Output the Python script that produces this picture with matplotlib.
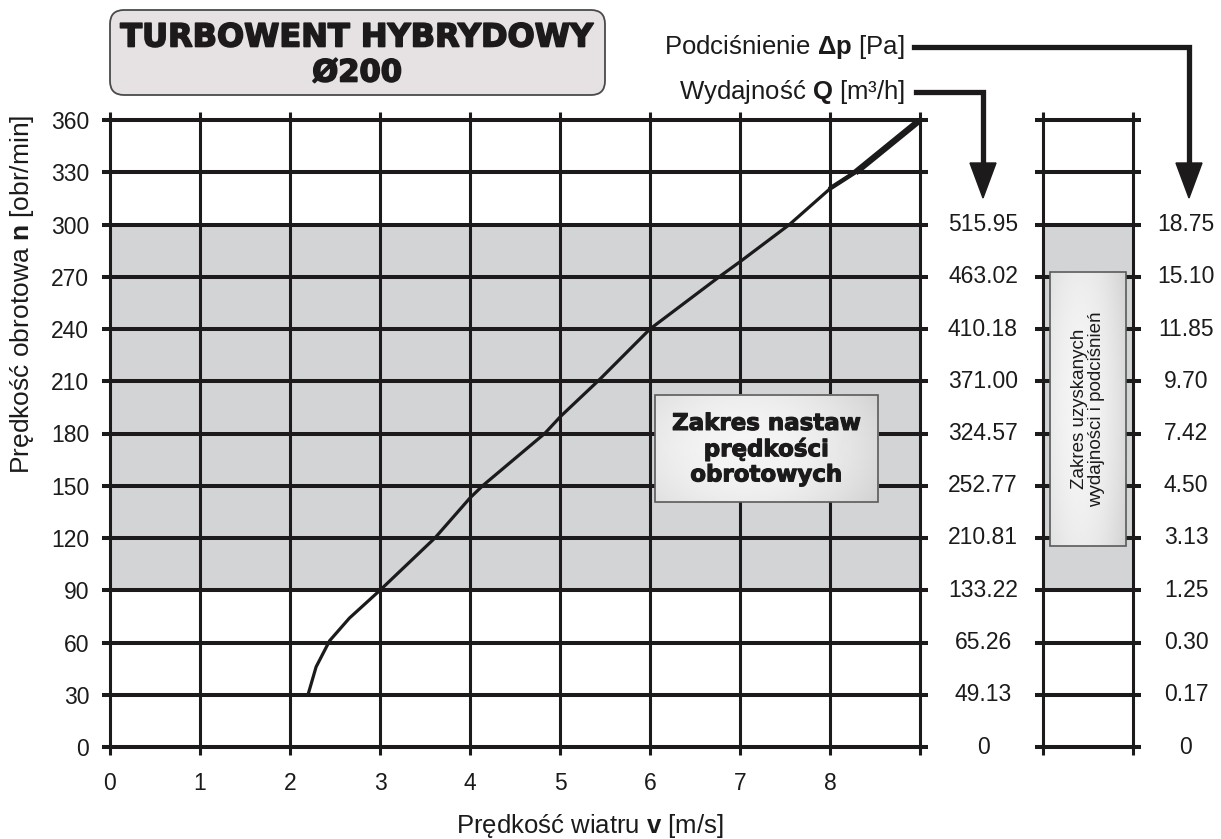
import numpy as np
import matplotlib.pyplot as plt
from matplotlib.patches import FancyBboxPatch, Rectangle, Polygon
import matplotlib.patheffects as pe

plt.rcParams['font.family'] = ['Liberation Sans', 'DejaVu Sans']
plt.rcParams['mathtext.fontset'] = 'custom'
plt.rcParams['mathtext.rm'] = 'Liberation Sans'
plt.rcParams['mathtext.bf'] = 'Liberation Sans:bold'

# characteristic: wind speed [m/s] -> rotor speed [obr/min]
wind = [2.20, 2.29, 2.44, 2.66, 3.00, 3.61, 4.00, 4.14, 4.83, 5.01, 5.44, 6.00,
        6.77, 7.01, 7.55, 8.01, 8.31, 9.00]
rpm = [30, 46, 61, 74, 90, 120, 143, 150, 180, 190, 211, 240,
       270, 279, 300, 321, 331, 360]

rpm_ticks = [0, 30, 60, 90, 120, 150, 180, 210, 240, 270, 300, 330, 360]
wind_ticks = [0, 1, 2, 3, 4, 5, 6, 7, 8, 9]
wind_labels = ['0', '1', '2', '3', '4', '5', '6', '7', '8', '']

# flow Q [m3/h] and pressure dp [Pa] for rpm 0..300
q_labels = ['0', '49.13', '65.26', '133.22', '210.81', '252.77', '324.57',
            '371.00', '410.18', '463.02', '515.95']
dp_labels = ['0', '0.17', '0.30', '1.25', '3.13', '4.50', '7.42',
             '9.70', '11.85', '15.10', '18.75']

band_lo, band_hi = 90, 300

W, H = 1221, 839
INK = '#1c1a1b'
GRAY = '#d3d4d6'
LW_H, LW_V = 2.9, 2.2

fig = plt.figure(figsize=(W / 100, H / 100), dpi=100)


def box(left, top, right, bottom):
    return [left / W, (H - bottom) / H, (right - left) / W, (bottom - top) / H]


def style_grid(a, xt, yt):
    for s in ('left', 'right'):
        a.spines[s].set_linewidth(LW_V)
        a.spines[s].set_color(INK)
    for s in ('top', 'bottom'):
        a.spines[s].set_linewidth(LW_H)
        a.spines[s].set_color(INK)
    a.set_xticks(xt)
    a.set_yticks(yt)
    a.tick_params(axis='x', direction='out', length=6, width=LW_V, color=INK,
                  top=True, bottom=True)
    a.tick_params(axis='y', direction='out', length=6, width=LW_H, color=INK,
                  left=True, right=True)
    for y in yt[1:-1]:
        a.axhline(y, color=INK, lw=LW_H, zorder=2)
    a.axhspan(band_lo, band_hi, color=GRAY, lw=0, zorder=0)


def gradient_box(a, x0, x1, y0, y1, z=5):
    gx, gy = np.meshgrid(np.linspace(-1, 1, 80), np.linspace(-1, 1, 80))
    g = 0.96 - 0.09 * ((gx + 0.2) ** 2 * 0.8 + gy ** 2 * 0.4)
    a.imshow(g, extent=[x0, x1, y0, y1], cmap='gray', vmin=0, vmax=1,
             aspect='auto', zorder=z, interpolation='bilinear')
    a.add_patch(Rectangle((x0, y0), x1 - x0, y1 - y0, fill=False,
                          ec='#5a5a5a', lw=1.2, zorder=z + 0.1))


# main chart
ax = fig.add_axes(box(110, 120, 920, 747))
style_grid(ax, wind_ticks, rpm_ticks)
for x in wind_ticks[1:-1]:
    ax.axvline(x, color=INK, lw=LW_V, zorder=2)
ax.set_xticklabels(wind_labels, fontsize=16.5, color=INK)
ax.set_yticklabels([str(v) for v in rpm_ticks], fontsize=16.5, color=INK)
ax.tick_params(axis='x', pad=12)
ax.tick_params(axis='y', pad=9)

ax.plot(wind, rpm, color=INK, lw=2.3, zorder=4, solid_capstyle='butt')
ax.plot(wind[-3:], rpm[-3:], color=INK, lw=3.2, zorder=4)
ax.plot(wind[-2:], rpm[-2:], color=INK, lw=4.6, zorder=4)

for i, lab in enumerate(q_labels):
    ax.text((983 - 110) / 810, rpm_ticks[i], lab, transform=ax.get_yaxis_transform(),
            fontsize=16.5, color=INK, ha='center', va='center', clip_on=False)

gradient_box(ax, 6.05, 8.53, 140.5, 202)
ax.text(7.29, 171, 'Zakres nastaw\nprędkości\nobrotowych', ha='center', va='center',
        family='DejaVu Sans', weight='bold', fontsize=16.5, color=INK,
        linespacing=1.12, zorder=6,
        path_effects=[pe.withStroke(linewidth=0.8, foreground=INK)])
ax.set_xlim(0, 9)
ax.set_ylim(0, 360)

# side panel for flow / pressure
ax2 = fig.add_axes(box(1043, 120, 1133, 747))
style_grid(ax2, [0, 1], rpm_ticks)
ax2.set_xticklabels([])
ax2.set_yticklabels([])
for i, lab in enumerate(dp_labels):
    ax2.text((1186 - 1043) / 90, rpm_ticks[i], lab, transform=ax2.get_yaxis_transform(),
             fontsize=16.5, color=INK, ha='center', va='center', clip_on=False)
gradient_box(ax2, 0.08, 0.92, 115.5, 273)
ax2.text(0.5, 194, 'Zakres uzyskanych\nwydajności i podciśnień', rotation=90,
         ha='center', va='center', fontsize=13.5, color=INK, zorder=6,
         linespacing=1.05)
ax2.set_xlim(0, 1)
ax2.set_ylim(0, 360)

# overlay in pixel units for the title box, labels and arrows
ov = fig.add_axes([0, 0, 1, 1])
ov.set_xlim(0, W)
ov.set_ylim(H, 0)
ov.axis('off')
ov.patch.set_alpha(0)

ov.add_patch(FancyBboxPatch((110, 10), 495, 85, boxstyle='round,pad=0,rounding_size=14',
                            fc='#e6e1e3', ec='#4a4a4a', lw=1.3))
title_fx = [pe.withStroke(linewidth=1.2, foreground=INK)]
ov.text(357, 38, 'TURBOWENT HYBRYDOWY', ha='center', va='center', family='DejaVu Sans',
        weight='bold', fontsize=23, color=INK, path_effects=title_fx)
ov.text(357, 73, 'Ø200', ha='center', va='center', family='DejaVu Sans',
        weight='bold', fontsize=22, color=INK, path_effects=title_fx)

ov.text(905, 47, 'Podciśnienie $\\mathbf{Δp}$ [Pa]', ha='right', va='center',
        fontsize=18.5, color=INK)
ov.text(905, 92, 'Wydajność $\\mathbf{Q}$ [m³/h]', ha='right', va='center',
        fontsize=18.5, color=INK)

ov.plot([914, 1189, 1189], [47, 47, 168], color=INK, lw=3.8, solid_joinstyle='miter')
ov.add_patch(Polygon([(1176, 163), (1202, 163), (1189, 198)], closed=True, fc=INK, ec=INK))
ov.plot([916, 983, 983], [92, 92, 168], color=INK, lw=3.8, solid_joinstyle='miter')
ov.add_patch(Polygon([(970, 163), (996, 163), (983, 198)], closed=True, fc=INK, ec=INK))

ov.text(22, 294, 'Prędkość obrotowa $\\mathbf{n}$ [obr/min]', rotation=90,
        ha='center', va='center', fontsize=19, color=INK)
ov.text(590, 826, 'Prędkość wiatru $\\mathbf{v}$ [m/s]', ha='center', va='center',
        fontsize=18.5, color=INK)

fig.savefig('out.png', dpi=100)
